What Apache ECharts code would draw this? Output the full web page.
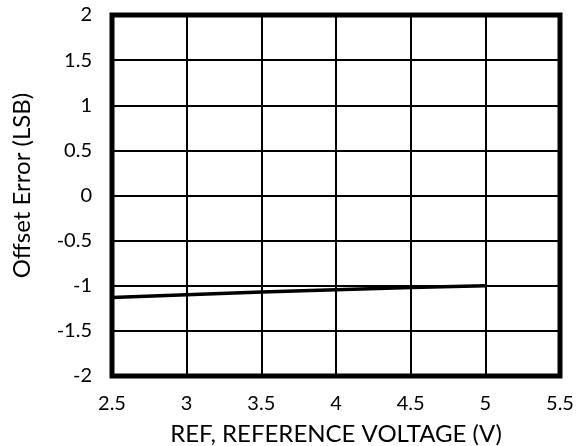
<!DOCTYPE html>
<html>
<head>
<meta charset="utf-8">
<script src="https://cdn.jsdelivr.net/npm/echarts@6/dist/echarts.min.js"></script>
<style>html,body{margin:0;padding:0;background:#fff;}#c{width:576px;height:446px;}</style>
</head>
<body>
<div id="c"></div>
<script>
var voltage = [2.5, 3, 3.5, 4, 4.5, 5];
var offsetError = [-1.13, -1.1, -1.07, -1.045, -1.02, -1.0];
var xTitle = 'REF, REFERENCE VOLTAGE (V)';
var yTitle = 'Offset Error (LSB)';

var chart = echarts.init(document.getElementById('c'), null, {renderer: 'canvas'});
var font = 'Lato, "Open Sans", sans-serif';
chart.setOption({
  animation: false,
  backgroundColor: '#fff',
  grid: {left: 112, right: 16, top: 15, bottom: 70, outerBoundsMode: 'none', containLabel: false,
         show: true, borderColor: '#000', borderWidth: 5, backgroundColor: 'transparent'},
  xAxis: {
    type: 'value', min: 2.5, max: 5.5, interval: 0.5,
    name: xTitle, nameLocation: 'middle', nameGap: 46,
    nameTextStyle: {fontFamily: font, fontSize: 24, color: '#000'},
    axisLine: {show: false}, axisTick: {show: false},
    axisLabel: {fontFamily: font, fontSize: 20, color: '#000', margin: 18},
    splitLine: {show: true, lineStyle: {color: '#000', width: 2}}
  },
  yAxis: {
    type: 'value', min: -2, max: 2, interval: 0.5,
    name: yTitle, nameLocation: 'middle', nameGap: 78,
    nameTextStyle: {fontFamily: font, fontSize: 24, color: '#000', padding: [0, 0, 0, 20]},
    axisLine: {show: false}, axisTick: {show: false},
    axisLabel: {fontFamily: font, fontSize: 20, color: '#000', margin: 20},
    splitLine: {show: true, lineStyle: {color: '#000', width: 2}}
  },
  series: [{
    type: 'line', data: voltage.map(function(v, i){ return [v, offsetError[i]]; }),
    showSymbol: false, lineStyle: {color: '#000', width: 3.5}
  }]
});
</script>
</body>
</html>
